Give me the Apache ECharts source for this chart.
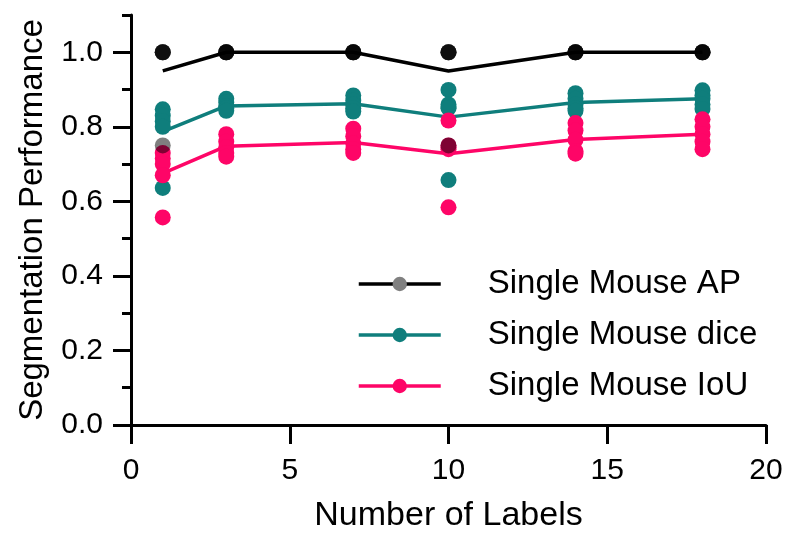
<!DOCTYPE html>
<html>
<head>
<meta charset="utf-8">
<script src="https://cdn.jsdelivr.net/npm/echarts@6/dist/echarts.min.js"></script>
<style>html,body{margin:0;padding:0;background:#fff}#c{width:800px;height:544px}</style>
</head>
<body>
<div id="c"></div>
<script>
const xVals = [1, 3, 7, 10, 14, 18];
const apPoints = [
  [1, 1, 1, 1, 0.75],
  [1, 1, 1, 1, 1],
  [1, 1, 1, 1, 1],
  [1, 1, 1, 1, 0.75],
  [1, 1, 1, 1, 1],
  [1, 1, 1, 1, 1]
];
const apMean = [0.95, 1, 1, 0.95, 1, 1];
const dicePoints = [
  [0.847, 0.83, 0.815, 0.80, 0.636],
  [0.875, 0.865, 0.855, 0.85, 0.843],
  [0.884, 0.87, 0.86, 0.85, 0.841],
  [0.899, 0.86, 0.853, 0.85, 0.657],
  [0.89, 0.875, 0.86, 0.85, 0.843],
  [0.898, 0.885, 0.875, 0.86, 0.848]
];
const diceMean = [0.787, 0.856, 0.862, 0.826, 0.865, 0.875];
const iouPoints = [
  [0.73, 0.715, 0.70, 0.67, 0.557],
  [0.78, 0.76, 0.745, 0.73, 0.72],
  [0.795, 0.775, 0.755, 0.74, 0.73],
  [0.817, 0.75, 0.745, 0.74, 0.584],
  [0.81, 0.79, 0.765, 0.735, 0.728],
  [0.82, 0.80, 0.78, 0.76, 0.74]
];
const iouMean = [0.675, 0.748, 0.758, 0.728, 0.766, 0.78];
const seriesNames = ['Single Mouse AP', 'Single Mouse dice', 'Single Mouse IoU'];
const yMajorTicks = [0, 0.2, 0.4, 0.6, 0.8, 1.0];
const yMinorTicks = [0.1, 0.3, 0.5, 0.7, 0.9, 1.1];

const FONT = "'Liberation Sans', Arial, Helvetica, sans-serif";
const C_AP = '#000000', C_DICE = '#0f7e7c', C_IOU = '#fe0567';

function pts(p) { return xVals.flatMap((x, i) => p[i].map(v => [x, v])); }
function line(m) { return xVals.map((x, i) => [x, m[i]]); }

const chart = echarts.init(document.getElementById('c'), null, {renderer: 'canvas'});
chart.setOption({
  animation: false,
  backgroundColor: '#fff',
  textStyle: {fontFamily: FONT},
  grid: {left: 131, right: 34, top: 15, bottom: 119, containLabel: false, outerBoundsMode: 'none'},
  legend: {
    orient: 'vertical', left: 352, top: 262,
    itemWidth: 82, itemHeight: 18, itemGap: 17,
    lineStyle: {width: 3.5},
    textStyle: {fontFamily: FONT, fontSize: 33, color: '#000', lineHeight: 34, padding: [0, 0, 0, 42]},
    data: [
      {name: seriesNames[0], itemStyle: {color: '#808080'}},
      {name: seriesNames[1]},
      {name: seriesNames[2]}
    ]
  },
  xAxis: {
    type: 'value', min: 0, max: 20, interval: 5,
    name: 'Number of Labels', nameLocation: 'middle', nameGap: 74,
    nameTextStyle: {fontFamily: FONT, fontSize: 34, color: '#000'},
    axisLine: {show: true, lineStyle: {color: '#000', width: 3}},
    axisTick: {show: true, length: 19, lineStyle: {color: '#000', width: 3}},
    axisLabel: {fontFamily: FONT, fontSize: 30, color: '#000', margin: 31},
    splitLine: {show: false}
  },
  yAxis: [{
    type: 'value', min: 0, max: 1.1, interval: 0.1,
    name: 'Segmentation Performance', nameLocation: 'middle', nameGap: 82,
    nameTextStyle: {fontFamily: FONT, fontSize: 33, color: '#000'},
    axisLine: {show: true, lineStyle: {color: '#000', width: 3}},
    axisTick: {show: true, length: 18, customValues: yMajorTicks, lineStyle: {color: '#000', width: 3}},
    axisLabel: {fontFamily: FONT, fontSize: 30, color: '#000', margin: 28, customValues: yMajorTicks,
      formatter: v => v.toFixed(1)},
    splitLine: {show: false}
  }, {
    type: 'value', min: 0, max: 1.1, interval: 0.1, position: 'left', offset: 0,
    axisLine: {show: false},
    axisTick: {show: true, length: 9, customValues: yMinorTicks, lineStyle: {color: '#000', width: 3}},
    axisLabel: {show: false},
    splitLine: {show: false}
  }],
  series: [
    {name: seriesNames[0], type: 'line', data: line(apMean), symbol: 'none',
      lineStyle: {color: C_AP, width: 3.5}, itemStyle: {color: C_AP}, z: 2},
    {name: seriesNames[1], type: 'line', data: line(diceMean), symbol: 'none',
      lineStyle: {color: C_DICE, width: 3.5}, itemStyle: {color: C_DICE}, z: 2},
    {name: seriesNames[2], type: 'line', data: line(iouMean), symbol: 'none',
      lineStyle: {color: C_IOU, width: 3.5}, itemStyle: {color: C_IOU}, z: 2},
    {name: seriesNames[1], type: 'scatter', data: pts(dicePoints), symbolSize: 16,
      itemStyle: {color: C_DICE, opacity: 1}, z: 3},
    {name: seriesNames[2], type: 'scatter', data: pts(iouPoints), symbolSize: 16,
      itemStyle: {color: C_IOU, opacity: 1}, z: 4},
    {name: seriesNames[0], type: 'scatter', data: pts(apPoints), symbolSize: 16,
      itemStyle: {color: C_AP, opacity: 0.5}, z: 5}
  ]
});
</script>
</body>
</html>
